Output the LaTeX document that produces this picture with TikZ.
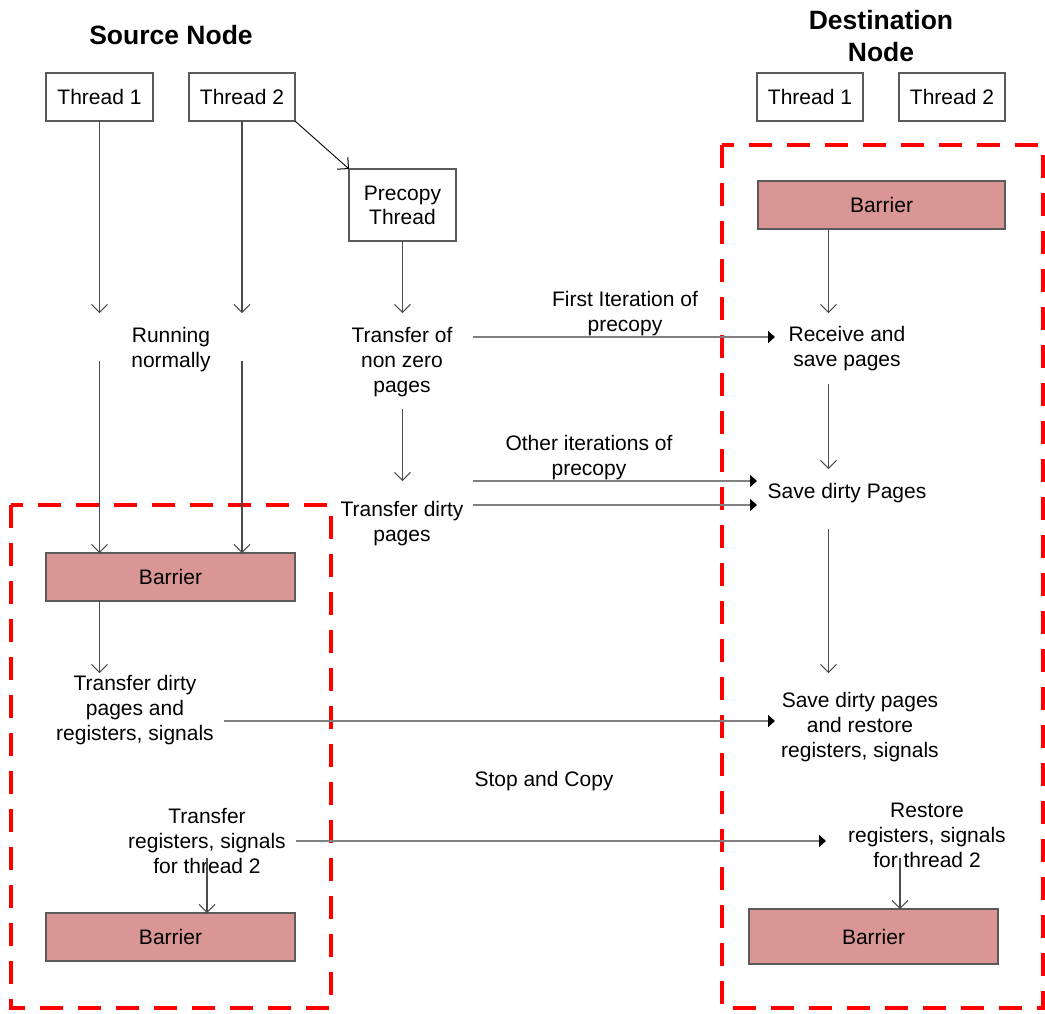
\documentclass[tikz,border=0pt]{standalone}
\usepackage{fontspec}
\setmainfont{Liberation Sans}
\usetikzlibrary{arrows.meta}
\definecolor{barrierfill}{RGB}{217,150,148}
\definecolor{boxline}{RGB}{90,90,90}
\definecolor{msgline}{RGB}{128,128,128}
\definecolor{phasered}{RGB}{255,0,0}

\begin{document}
\begin{tikzpicture}[x=1pt,y=-1pt,
  every node/.style={font=\fontsize{21}{25}\selectfont, inner sep=0pt, outer sep=0pt},
  title/.style={font=\fontsize{26.5}{32}\selectfont\bfseries, align=center},
  txt/.style={align=center},
  threadbox/.style={draw=boxline, line width=1.3pt, fill=white, align=center},
  barrier/.style={draw=boxline, line width=1.3pt, fill=barrierfill, minimum height=48pt},
  phase/.style={draw=phasered, line width=4pt, dash pattern=on 23pt off 15pt},
  flow/.style={draw=black!70, line width=1.1pt,
    -{Straight Barb[length=8pt,width=16pt,line width=1pt]}},
  msg/.style={draw=msgline, line width=2pt,
    -{Triangle[length=7pt,width=12pt,color=black]}}
]
\useasboundingbox (0,0) rectangle (1045,1013);

% phase frames
\draw[phase] (11,505) rectangle (331,1008);
\draw[phase] (722,145) rectangle (1043,1008);

% titles
\node[title] (srcTitle) at (171,35.5) {Source Node};
\node[title] (dstTitle) at (881,36) {Destination\\Node};

% threads
\node[threadbox, minimum width=107pt, minimum height=48pt] (s1) at (99.5,97) {Thread 1};
\node[threadbox, minimum width=106pt, minimum height=48pt] (s2) at (242,97) {Thread 2};
\node[threadbox, minimum width=106pt, minimum height=48pt] (d1) at (810,97) {Thread 1};
\node[threadbox, minimum width=106pt, minimum height=48pt] (d2) at (952,97) {Thread 2};
\node[threadbox, minimum width=107pt, minimum height=72pt,
      font=\fontsize{21}{24}\selectfont] (pre) at (402.5,205) {Precopy\\Thread};

% barriers
\node[barrier, minimum width=249pt] (sb1) at (170.5,577) {Barrier};
\node[barrier, minimum width=249pt] (sb2) at (170.5,937) {Barrier};
\node[barrier, minimum width=247pt] (db1) at (881.5,205) {Barrier};
\node[barrier, minimum width=249pt, minimum height=55pt] (db2) at (873.5,936.5) {Barrier};

% step labels
\node[txt] (run) at (171,349.5) {Running\\normally};
\node[txt] (nz)  at (402,362) {Transfer of\\non zero\\pages};
\node[txt] (tdp) at (402,523.5) {Transfer dirty\\pages};
\node[txt] (fi)  at (625,314) {First Iteration of\\precopy};
\node[txt] (oi)  at (589,458) {Other iterations of\\precopy};
\node[txt] (rsp) at (847,349) {Receive and\\save pages};
\node[txt] (sdp) at (847,493) {Save dirty Pages};
\node[txt] (tdr) at (135,710) {Transfer dirty\\pages and\\registers, signals};
\node[txt] (sdr) at (860,727) {Save dirty pages\\and restore\\registers, signals};
\node[txt] (sc)  at (544,781) {Stop and Copy};
\node[txt] (trs) at (207,841) {Transfer\\registers, signals\\for thread 2};
\node[txt] (rrs) at (927,835) {Restore\\registers, signals\\for thread 2};

% control-flow end points
\coordinate (s1Stop) at (99.5,313);
\coordinate (s1Go)   at (99.5,361);
\coordinate (s2Stop) at (242,313);
\coordinate (s2Go)   at (242,361);
\coordinate (preStop) at (402.5,313);
\coordinate (nzGo)   at (402.5,409);
\coordinate (nzStop) at (402.5,481);
\coordinate (sbStop) at (99.5,673);
\coordinate (trsGo)  at (207,858);
\coordinate (dbStop) at (828.5,313);
\coordinate (rspGo)  at (828.5,384);
\coordinate (rspStop) at (828.5,469);
\coordinate (sdpGo)  at (828.5,529);
\coordinate (sdpStop) at (828.5,673);
\coordinate (rrsGo)  at (900,858);

% message end points
\coordinate (nzOut)  at (473,337);
\coordinate (rspIn)  at (775,337);
\coordinate (tdpOutA) at (473,481);
\coordinate (sdpInA) at (757,481);
\coordinate (tdpOutB) at (473,505);
\coordinate (sdpInB) at (757,505);
\coordinate (tdrOut) at (224,721);
\coordinate (sdrIn)  at (775,721);
\coordinate (trsOut) at (296,841);
\coordinate (rrsIn)  at (826,841);

% source side flow
\draw[flow] (s1.south) -- (s1Stop);
\draw[flow] (s1Go) -- (s1Go |- sb1.north);
\draw[flow] (s2.south) -- (s2Stop);
\draw[flow] (s2Go) -- (s2Go |- sb1.north);
\draw[flow, draw=black, line width=0.9pt] (s2.south east) -- (pre.north west);
\draw[flow] (pre.south) -- (preStop);
\draw[flow] (nzGo) -- (nzStop);
\draw[flow] (s1Go |- sb1.south) -- (sbStop);
\draw[flow] (trsGo) -- (trsGo |- sb2.north);

% destination side flow
\draw[flow] (dbStop |- db1.south) -- (dbStop);
\draw[flow] (rspGo) -- (rspStop);
\draw[flow] (sdpGo) -- (sdpStop);
\draw[flow] (rrsGo) -- (rrsGo |- db2.north);

% messages between nodes
\draw[msg] (nzOut) -- (rspIn);
\draw[msg] (tdpOutA) -- (sdpInA);
\draw[msg] (tdpOutB) -- (sdpInB);
\draw[msg] (tdrOut) -- (sdrIn);
\draw[msg] (trsOut) -- (rrsIn);
\end{tikzpicture}
\end{document}
